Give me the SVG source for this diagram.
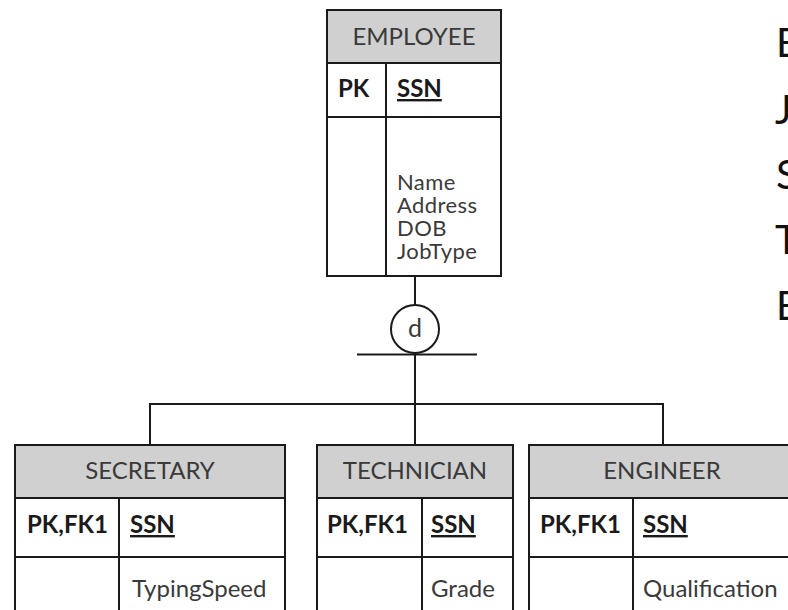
<svg xmlns="http://www.w3.org/2000/svg" width="788" height="610" viewBox="0 0 788 610">
  <style>
    .box { fill: #ffffff; stroke: #1a1a1a; stroke-width: 2; }
    .hdr { fill: #d0d0d0; stroke: #1a1a1a; stroke-width: 2; }
    .ln { stroke: #1a1a1a; stroke-width: 2; fill: none; }
    .t { font-family: Lato, "Open Sans", sans-serif; font-size: 24px; fill: #3a3a3a; }
    .a { font-size: 22px; letter-spacing: 0.4px; }
    .c { text-anchor: middle; }
    .b { font-weight: bold; fill: #1a1a1a; }
    .u { text-decoration: underline; }
    .big { font-family: Lato, "Open Sans", sans-serif; font-size: 40px; fill: #111111; }
  </style>
  <rect width="788" height="610" fill="#ffffff"/>

  <!-- connectors: supertype line, disjoint circle, subtype bus -->
  <g id="connectors">
    <line class="ln" x1="415" y1="276" x2="415" y2="305"/>
    <circle class="ln" cx="415" cy="329" r="24"/>
    <text class="t c" x="415" y="337" style="font-size:25px">d</text>
    <line class="ln" x1="357" y1="354.5" x2="477" y2="354.5"/>
    <line class="ln" x1="415" y1="353" x2="415" y2="445"/>
    <polyline class="ln" points="150,445 150,404 663,404 663,445"/>
  </g>

  <g id="employee">
    <rect class="box" x="327" y="10" width="174" height="266"/>
    <rect class="hdr" x="327" y="10" width="174" height="53"/>
    <line class="ln" x1="327" y1="117" x2="501" y2="117"/>
    <line class="ln" x1="386" y1="63" x2="386" y2="276"/>
    <text class="t c" x="414" y="45">EMPLOYEE</text>
    <text class="t b" x="338" y="97">PK</text>
    <text class="t b u" x="397" y="97">SSN</text>
    <text class="t a" x="397" y="190">Name</text>
    <text class="t a" x="397" y="213">Address</text>
    <text class="t a" x="397" y="236">DOB</text>
    <text class="t a" x="397" y="259">JobType</text>
  </g>

  <g id="secretary">
    <rect class="box" x="15" y="445" width="270" height="180"/>
    <rect class="hdr" x="15" y="445" width="270" height="53"/>
    <line class="ln" x1="15" y1="557" x2="285" y2="557"/>
    <line class="ln" x1="119" y1="498" x2="119" y2="625"/>
    <text class="t c" x="150" y="479">SECRETARY</text>
    <text class="t b" x="27" y="533">PK,FK1</text>
    <text class="t b u" x="130" y="533">SSN</text>
    <text class="t" x="132" y="597">TypingSpeed</text>
  </g>

  <g id="technician">
    <rect class="box" x="317" y="445" width="196" height="180"/>
    <rect class="hdr" x="317" y="445" width="196" height="53"/>
    <line class="ln" x1="317" y1="557" x2="513" y2="557"/>
    <line class="ln" x1="422" y1="498" x2="422" y2="625"/>
    <text class="t c" x="415" y="479">TECHNICIAN</text>
    <text class="t b" x="327" y="533">PK,FK1</text>
    <text class="t b u" x="431" y="533">SSN</text>
    <text class="t" x="431" y="597">Grade</text>
  </g>

  <g id="engineer">
    <rect class="box" x="529" y="445" width="280" height="180"/>
    <rect class="hdr" x="529" y="445" width="280" height="53"/>
    <line class="ln" x1="529" y1="557" x2="809" y2="557"/>
    <line class="ln" x1="633" y1="498" x2="633" y2="625"/>
    <text class="t c" x="662" y="479">ENGINEER</text>
    <text class="t b" x="540" y="533">PK,FK1</text>
    <text class="t b u" x="643" y="533">SSN</text>
    <text class="t" x="643" y="597">Qualification</text>
  </g>

  <!-- large letters along the right edge, running off the page -->
  <g id="side-letters">
    <text class="big" x="776" y="57">E</text>
    <text class="big" x="775" y="124">J</text>
    <text class="big" x="776" y="189">S</text>
    <text class="big" x="775" y="254">T</text>
    <text class="big" x="776" y="320">E</text>
  </g>
</svg>
